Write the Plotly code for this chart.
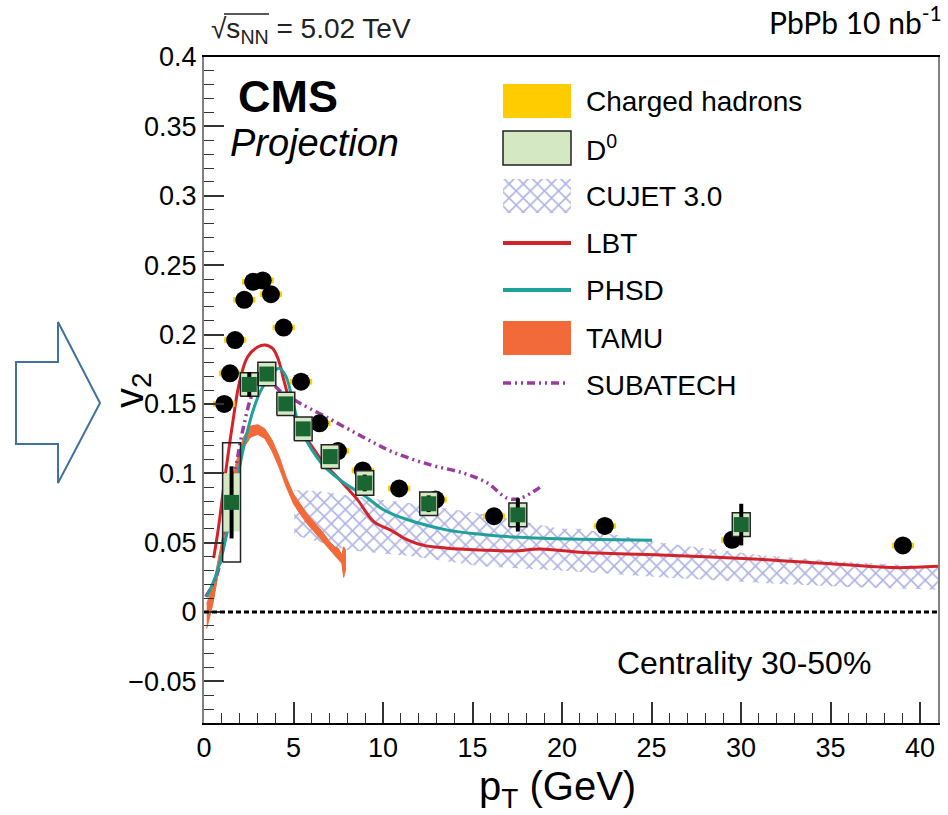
import plotly.graph_objects as go

# ---------------- data ----------------
ch_pt = [1.13, 1.45, 1.74, 2.25, 2.74, 3.28, 3.74, 4.45, 5.42, 6.45, 7.48, 8.87, 10.90, 12.94, 16.20, 22.39, 29.50, 39.04]
ch_v2 = [0.150, 0.172, 0.196, 0.225, 0.238, 0.239, 0.229, 0.205, 0.166, 0.136, 0.116, 0.102, 0.089, 0.081, 0.069, 0.062, 0.052, 0.048]
ch_sys = [0.002] * len(ch_pt)

d0_pt = [1.54, 2.53, 3.51, 4.57, 5.54, 7.05, 8.98, 12.55, 17.53, 30.01]
d0_v2 = [0.079, 0.164, 0.1715, 0.150, 0.132, 0.112, 0.093, 0.078, 0.070, 0.063]
d0_stat = [0.026, 0.009, 0.005, 0.004, 0.004, 0.005, 0.006, 0.006, 0.012, 0.015]
d0_sys_outer = [0.043, 0.0085, 0.0085, 0.0083, 0.0085, 0.0085, 0.0088, 0.0085, 0.0085, 0.0086]
d0_sys_inner = [0.021, 0.0085, 0.0085, 0.0083, 0.0085, 0.0085, 0.0088, 0.0085, 0.0085, 0.0086]

lbt_pt = [0.54, 0.8, 1.13, 1.6, 1.97, 2.44, 3.0, 3.4, 3.83, 4.15, 4.48, 4.85, 5.4, 6.0, 6.7, 7.46, 8.02, 8.57, 9.5, 10.43,
          11.36, 12.29, 13.6, 15.45, 17.31, 18.8, 21.0, 25.5, 31.0, 34.8, 38.5, 41.0]
lbt_v2 = [0.039, 0.060, 0.093, 0.136, 0.165, 0.184, 0.191, 0.1925, 0.190, 0.182, 0.166, 0.149, 0.131, 0.120, 0.107, 0.097,
          0.089, 0.081, 0.065, 0.059, 0.052, 0.048, 0.046, 0.0447, 0.044, 0.0454, 0.043, 0.041, 0.038, 0.035, 0.032, 0.033]

phsd_pt = [0.17, 0.76, 1.32, 1.88, 2.34, 2.81, 3.27, 3.83, 4.2, 4.57, 4.85, 5.23, 5.79, 6.71, 7.83, 8.94, 9.87, 10.43,
           11.73, 13.6, 15.45, 17.31, 19.17, 21.03, 25.03]
phsd_v2 = [0.011, 0.030, 0.059, 0.0975, 0.126, 0.148, 0.162, 0.172, 0.1756, 0.170, 0.158, 0.138, 0.122, 0.105, 0.093,
           0.084, 0.075, 0.071, 0.065, 0.059, 0.056, 0.054, 0.053, 0.0524, 0.0517]

sub_pt = [0.1, 0.67, 1.23, 1.79, 2.25, 2.72, 3.18, 3.74, 4.3, 4.85, 5.04, 6.9, 8.9, 10.6, 12.66, 14.52, 15.83, 16.94, 17.68, 18.89]
sub_v2 = [0.011, 0.025, 0.057, 0.105, 0.136, 0.1576, 0.166, 0.165, 0.1588, 0.1552, 0.153, 0.140, 0.126, 0.115, 0.106,
          0.100, 0.093, 0.082, 0.082, 0.091]

cujet_pt = [5.04, 6.5, 8.0, 11.73, 15.45, 19.92, 21.03, 25.5, 31.07, 36.0, 41.0]
cujet_hi = [0.088, 0.087, 0.084, 0.078, 0.071, 0.060, 0.060, 0.050, 0.041, 0.036, 0.0327]
cujet_lo = [0.0555, 0.050, 0.0447, 0.040, 0.033, 0.030, 0.029, 0.025, 0.021, 0.018, 0.016]

tamu_pt = [0.15, 0.5, 1.0, 1.4, 1.8, 2.2, 2.6, 3.0, 3.4, 3.8, 4.2, 4.6, 5.0, 5.4, 5.8, 6.2, 6.6, 7.0, 7.3, 7.5, 7.7, 7.8, 7.9]
tamu_hi = [0.006, 0.018, 0.052, 0.082, 0.108, 0.126, 0.134, 0.135, 0.132, 0.124, 0.112, 0.097, 0.085, 0.077, 0.070,
           0.064, 0.058, 0.051, 0.047, 0.046, 0.041, 0.047, 0.045]
tamu_lo = [-0.012, 0.006, 0.042, 0.072, 0.099, 0.118, 0.126, 0.128, 0.125, 0.116, 0.104, 0.090, 0.078, 0.070, 0.063,
           0.057, 0.051, 0.045, 0.041, 0.038, 0.035, 0.025, 0.030]

x_ticks = [0, 5, 10, 15, 20, 25, 30, 35, 40]
legend_labels = ["Charged hadrons", "D<sup>0</sup>", "CUJET 3.0", "LBT", "PHSD", "TAMU", "SUBATECH"]

# ---------------- style ----------------
W, H = 948, 815
RED = "#d2232b"
TEAL = "#1fa09b"
ORANGE = "#f26a3a"
PURPLE = "#9b3c9c"
HATCH = "#5f66c8"
YELLOW = "#ffcc00"
LGREEN = "#d4e8c4"
DGREEN = "#1a6632"
FONT = "Liberation Sans, Arial, sans-serif"
HPAT = dict(shape="x", fgcolor=HATCH, bgcolor="rgba(0,0,0,0)", size=10, solidity=0.3)

fig = go.Figure()

# CUJET band
fig.add_trace(go.Scatter(
    x=cujet_pt + cujet_pt[::-1], y=cujet_hi + cujet_lo[::-1],
    fill="toself", mode="lines", line=dict(width=0, color="rgba(0,0,0,0)"),
    fillcolor="rgba(0,0,0,0)", fillpattern=HPAT, showlegend=False, hoverinfo="skip"))

# TAMU band
fig.add_trace(go.Scatter(
    x=tamu_pt + tamu_pt[::-1], y=tamu_hi + tamu_lo[::-1],
    fill="toself", mode="lines", line=dict(width=1, color=ORANGE), fillcolor=ORANGE,
    showlegend=False, hoverinfo="skip"))

# model lines
fig.add_trace(go.Scatter(x=sub_pt, y=sub_v2, mode="lines",
                         line=dict(color=PURPLE, width=3.5, dash="8px,4px,2px,4px,2px,4px", shape="spline"),
                         showlegend=False))
fig.add_trace(go.Scatter(x=lbt_pt, y=lbt_v2, mode="lines", line=dict(color=RED, width=3, shape="spline"), showlegend=False))
fig.add_trace(go.Scatter(x=phsd_pt, y=phsd_v2, mode="lines", line=dict(color=TEAL, width=3, shape="spline"), showlegend=False))

# charged hadron syst boxes (yellow)
HWC = 0.62
cx, cy = [], []
for x, y, s in zip(ch_pt, ch_v2, ch_sys):
    cx += [x - HWC, x + HWC, x + HWC, x - HWC, x - HWC, None]
    cy += [y - s, y - s, y + s, y + s, y - s, None]
fig.add_trace(go.Scatter(x=cx, y=cy, fill="toself", mode="lines", line=dict(width=0), fillcolor=YELLOW,
                         showlegend=False, hoverinfo="skip"))
fig.add_trace(go.Scatter(x=ch_pt, y=ch_v2, mode="markers", marker=dict(symbol="circle", size=18, color="black"),
                         showlegend=False))

# D0 boxes
HWD = 0.5
fx, fy, ox, oy = [], [], [], []
for x, y, si, so in zip(d0_pt, d0_v2, d0_sys_inner, d0_sys_outer):
    fx += [x - HWD, x + HWD, x + HWD, x - HWD, x - HWD, None]
    fy += [y - si, y - si, y + si, y + si, y - si, None]
    ox += [x - HWD, x + HWD, x + HWD, x - HWD, x - HWD, None]
    oy += [y - so, y - so, y + so, y + so, y - so, None]
fig.add_trace(go.Scatter(x=fx, y=fy, fill="toself", mode="lines", line=dict(width=0), fillcolor=LGREEN,
                         showlegend=False, hoverinfo="skip"))
fig.add_trace(go.Scatter(x=ox, y=oy, mode="lines", line=dict(width=1.5, color="#222222"),
                         showlegend=False, hoverinfo="skip"))
fig.add_trace(go.Scatter(x=d0_pt, y=d0_v2, mode="markers",
                         error_y=dict(type="data", array=d0_stat, color="black", thickness=4, width=0),
                         marker=dict(symbol="square", size=15, color=DGREEN), showlegend=False))

# ---------------- legend (pixel overlay axes) ----------------
LX0, LX1, LXT = 503, 571, 584
rows = [101, 148, 196, 243, 290, 338, 385]
HALF = 17
shapes = []
shapes.append(dict(type="rect", xref="x2", yref="y2", x0=LX0, x1=LX1, y0=rows[0] - HALF, y1=rows[0] + HALF,
                   fillcolor=YELLOW, line=dict(width=0)))
shapes.append(dict(type="rect", xref="x2", yref="y2", x0=LX0, x1=LX1, y0=rows[1] - HALF, y1=rows[1] + HALF,
                   fillcolor=LGREEN, line=dict(width=1.5, color="#222222")))
shapes.append(dict(type="rect", xref="x2", yref="y2", x0=LX0, x1=LX1, y0=rows[5] - HALF, y1=rows[5] + HALF,
                   fillcolor=ORANGE, line=dict(width=0)))
fig.add_trace(go.Scatter(x=[LX0, LX1, LX1, LX0, LX0],
                         y=[rows[2] - HALF, rows[2] - HALF, rows[2] + HALF, rows[2] + HALF, rows[2] - HALF],
                         xaxis="x2", yaxis="y2", fill="toself", mode="lines", line=dict(width=0),
                         fillcolor="rgba(0,0,0,0)", fillpattern=HPAT, showlegend=False, hoverinfo="skip"))
fig.add_trace(go.Scatter(x=[(LX0 + LX1) / 2], y=[rows[0]], xaxis="x2", yaxis="y2", mode="markers",
                         marker=dict(symbol="circle", size=17, color="black"), showlegend=False))
fig.add_trace(go.Scatter(x=[(LX0 + LX1) / 2], y=[rows[1]], xaxis="x2", yaxis="y2", mode="markers",
                         marker=dict(symbol="square", size=15, color=DGREEN), showlegend=False))
fig.add_trace(go.Scatter(x=[LX0, LX1], y=[rows[3], rows[3]], xaxis="x2", yaxis="y2", mode="lines",
                         line=dict(color=RED, width=4), showlegend=False))
fig.add_trace(go.Scatter(x=[LX0, LX1], y=[rows[4], rows[4]], xaxis="x2", yaxis="y2", mode="lines",
                         line=dict(color=TEAL, width=4), showlegend=False))
fig.add_trace(go.Scatter(x=[LX0, 567], y=[rows[6] - 2, rows[6] - 2], xaxis="x2", yaxis="y2", mode="lines",
                         line=dict(color=PURPLE, width=3.5, dash="8px,4px,2px,4px,2px,4px"), showlegend=False))

annotations = []
for r, lab in zip(rows, legend_labels):
    annotations.append(dict(xref="x2", yref="y2", x=LXT, y=r, text=lab, showarrow=False, xanchor="left",
                            yanchor="middle", font=dict(family=FONT, size=28, color="black")))

# zero line
shapes.append(dict(type="line", xref="x", yref="y", x0=0, x1=41, y0=0, y1=0,
                   line=dict(color="black", width=3, dash="5px,3px")))

# arrow
shapes.append(dict(type="path", xref="x2", yref="y2",
                   path="M16,362 L58,362 L58,322 L100,403 L58,483 L58,444 L16,444 Z",
                   line=dict(color="#41719c", width=2), fillcolor="rgba(0,0,0,0)"))
# sqrt overline
shapes.append(dict(type="line", xref="x2", yref="y2", x0=224, x1=269, y0=14, y1=14,
                   line=dict(color="#222222", width=1.5)))

annotations += [
    dict(xref="x2", yref="y2", x=209, y=30, text="√s<sub>NN</sub> = 5.02 TeV", showarrow=False,
         xanchor="left", yanchor="middle", font=dict(family=FONT, size=28, color="#222222")),
    dict(xref="x2", yref="y2", x=944, y=20, text="PbPb 10 nb<sup>-1</sup>", showarrow=False,
         xanchor="right", yanchor="middle", font=dict(family="Lato, Carlito, sans-serif", size=30, color="black")),
    dict(xref="x2", yref="y2", x=236, y=96, text="<b>CMS</b>", showarrow=False,
         xanchor="left", yanchor="middle", font=dict(family=FONT, size=45, color="black")),
    dict(xref="x2", yref="y2", x=228, y=143, text="<i>Projection</i>", showarrow=False,
         xanchor="left", yanchor="middle", font=dict(family=FONT, size=38, color="black")),
    dict(xref="x2", yref="y2", x=615, y=663, text="Centrality 30-50%", showarrow=False,
         xanchor="left", yanchor="middle", font=dict(family=FONT, size=32, color="black")),
    dict(xref="x2", yref="y2", x=557, y=789, text="p<sub>T</sub> (GeV)", showarrow=False,
         xanchor="center", yanchor="middle", font=dict(family=FONT, size=40, color="black")),
    dict(xref="x2", yref="y2", x=132, y=390, text="v<sub>2</sub>", showarrow=False, textangle=-90,
         xanchor="center", yanchor="middle", font=dict(family=FONT, size=40, color="black")),
]

fig.update_layout(
    width=W, height=H,
    margin=dict(l=0, r=0, t=0, b=0, pad=0, autoexpand=False),
    paper_bgcolor="white", plot_bgcolor="rgba(0,0,0,0)",
    showlegend=False,
    shapes=shapes, annotations=annotations,
    xaxis=dict(domain=[204 / W, 938 / W], range=[0, 41], anchor="y", automargin=False,
               tickmode="array", tickvals=x_ticks, ticks="inside", ticklen=21, tickwidth=1.5, tickcolor="#333333",
               minor=dict(dtick=1, ticks="inside", ticklen=10, tickwidth=1.2, tickcolor="#333333"),
               showgrid=False, zeroline=False, showline=True, linecolor="black", linewidth=2, mirror=True,
               tickfont=dict(family=FONT, size=27, color="black")),
    yaxis=dict(domain=[1 - 723 / H, 1 - 57 / H], range=[-0.08, 0.4], anchor="x", automargin=False,
               dtick=0.05, tick0=0, ticks="inside", ticklen=20, tickwidth=1.5, tickcolor="#333333",
               minor=dict(dtick=0.01, ticks="inside", ticklen=10, tickwidth=1.2, tickcolor="#333333"),
               showgrid=False, zeroline=False, showline=True, linecolor="#808080", linewidth=2, mirror=True,
               tickfont=dict(family=FONT, size=27, color="black")),
    xaxis2=dict(domain=[0, 1], range=[0, W], anchor="y2", visible=False, fixedrange=True, automargin=False),
    yaxis2=dict(domain=[0, 1], range=[H, 0], anchor="x2", visible=False, fixedrange=True, automargin=False),
)

fig.write_html("out.html")
